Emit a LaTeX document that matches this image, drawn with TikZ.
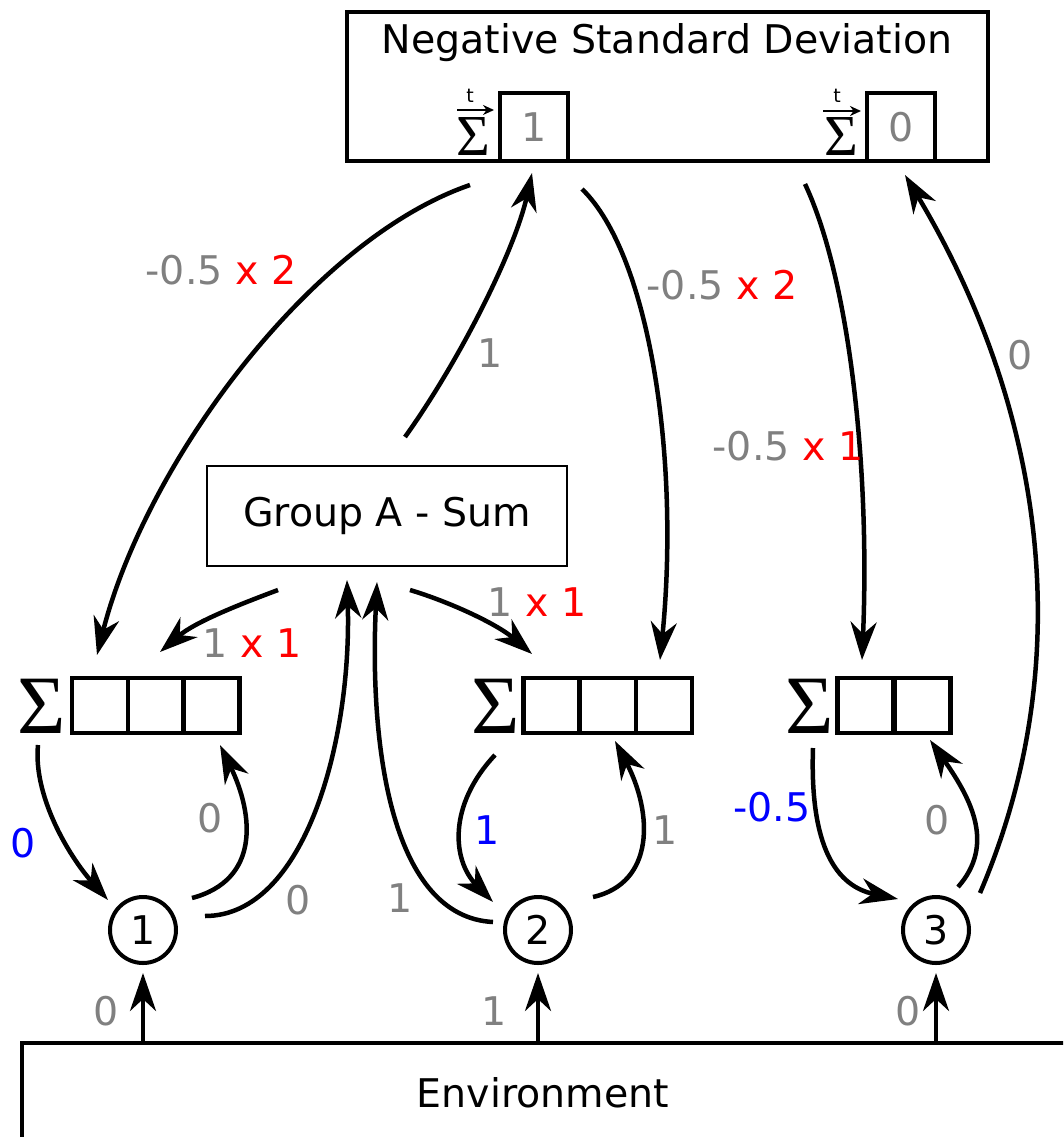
\documentclass[tikz,border=0pt]{standalone}
\usepackage{fontspec}
\setmainfont{DejaVu Sans}
\newfontfamily\sigfont{Liberation Serif}
\usetikzlibrary{arrows.meta,calc}
\definecolor{lg}{RGB}{128,128,128}
\begin{document}
\begin{tikzpicture}[x=1pt,y=-1pt,
  every node/.style={font=\fontsize{39.5}{47}\selectfont, inner sep=0pt, outer sep=0pt},
  conn/.style={line width=4.5pt, -{Stealth[length=38pt,width=26pt,inset=12pt]}},
  cell/.style={draw, line width=4.5pt, minimum width=56pt, minimum height=55pt},
  ibox/.style={draw, line width=4.5pt, minimum width=68pt, minimum height=68pt, text=lg},
  circ/.style={draw, circle, line width=4pt, minimum size=66pt},
  bigsig/.style={font=\sigfont\fontsize{83}{90}\selectfont},
  smallsig/.style={font=\sigfont\fontsize{58}{64}\selectfont},
  tlab/.style={font=\fontsize{19}{22}\selectfont},
  tarrow/.style={line width=2pt, -{Stealth[length=11pt,width=10pt]}},
  glab/.style={text=lg},
  blab/.style={text=blue}
]
\clip (0,0) rectangle (1063,1137);
\fill[white] (0,0) rectangle (1063,1137);

% top box
\node[draw, line width=4.5pt, minimum width=641pt, minimum height=149pt] (nsd) at (667.5,86.5) {};
\node (title) at (667,43) {Negative Standard Deviation};
\node[ibox] (b1) at (534,127) {1};
\node[ibox] (b2) at (901,127) {0};
\node[smallsig] (st1) at (473,137) {Σ};
\node[smallsig] (st2) at (841,137) {Σ};
\draw[tarrow] ([shift={(-16,-27)}]st1.center) -- ([shift={(21,-27)}]st1.center);
\draw[tarrow] ([shift={(-18,-26)}]st2.center) -- ([shift={(20,-26)}]st2.center);
\node[tlab] (t1) at (470,96) {t};
\node[tlab] (t2) at (837,96) {t};

% group A
\node[draw, line width=2.8pt, minimum width=360pt, minimum height=100pt] (ga) at (387,516) {Group A - Sum};

% registers
\node[bigsig] (s1) at (42,706) {Σ};
\node[cell] (r1a) at (100,705.5) {};
\node[cell] (r1b) at (156,705.5) {};
\node[cell] (r1c) at (211.5,705.5) {};
\node[bigsig] (s2) at (496,706) {Σ};
\node[cell] (r2a) at (551.5,705.5) {};
\node[cell] (r2b) at (608,705.5) {};
\node[cell] (r2c) at (664,705.5) {};
\node[bigsig] (s3) at (810,706) {Σ};
\node[cell] (r3a) at (865.5,705.5) {};
\node[cell] (r3b) at (922.5,705.5) {};

% circles
\node[circ] (c1) at (143,930) {1};
\node[circ] (c2) at (538,930) {2};
\node[circ] (c3) at (936,930) {3};

% environment
\node[draw, line width=4.5pt, anchor=north west, minimum width=1200pt, minimum height=300pt] (env) at (22,1043) {};
\node (envt) at (543,1093) {Environment};

\draw[conn, shorten >=10pt] (env.north -| c1) -- (c1.south);
\draw[conn, shorten >=10pt] (env.north -| c2) -- (c2.south);
\draw[conn, shorten >=10pt] (env.north -| c3) -- (c3.south);
\node[glab] (le1) at (106,1011) {0};
\node[glab] (le2) at (494,1011) {1};
\node[glab] (le3) at (908,1011) {0};

% connectors
\draw[conn] ([shift={(-64,58)}]b1.center) .. controls +(-160,55) and +(48,-190) .. ([shift={(-3,-50.5)}]r1a.center);
\draw[conn] ([shift={(18,-79)}]ga.center) .. controls +(55,-77) and +(-17,77) .. ([shift={(-2,46)}]b1.center);
\draw[conn] ([shift={(48,62)}]b1.center) .. controls +(68,66) and +(20,-200) .. ([shift={(-4,-45.5)}]r2c.center);
\draw[conn] ([shift={(-96,57)}]b2.center) .. controls +(45,96) and +(8,-190) .. ([shift={(-3.5,-45.5)}]r3a.center);
\draw[conn] ([shift={(44,-37)}]c3.center) .. controls +(112,-262) and +(120,200) .. ([shift={(4,48)}]b2.center);
\draw[conn] ([shift={(-109,74)}]ga.center) .. controls +(-40,15) and +(35,-30) .. ([shift={(4,-53.5)}]r1b.center);
\draw[conn] ([shift={(23,74)}]ga.center) .. controls +(40,12) and +(-35,-30) .. ([shift={(-19.5,-51.5)}]r2a.center);
\draw[conn] ([shift={(62,-14)}]c1.center) .. controls +(100,0) and +(5,160) .. ([shift={(-40,64)}]ga.center);
\draw[conn] ([shift={(-45,-8)}]c2.center) .. controls +(-100,-5) and +(-8,170) .. ([shift={(-10,66)}]ga.center);
\draw[conn] ([shift={(-4,39)}]s1.center) .. controls +(-5,50) and +(-40,-45) .. ([shift={(-35,-30)}]c1.center);
\draw[conn] ([shift={(49,-32)}]c1.center) .. controls +(68,-18) and +(34,70) .. ([shift={(8.5,39.5)}]r1c.center);
\draw[conn] ([shift={(-1,49)}]s2.center) .. controls +(-47,50) and +(-41,-42) .. ([shift={(-45,-28)}]c2.center);
\draw[conn] ([shift={(55,-33)}]c2.center) .. controls +(62,-14) and +(38,72) .. ([shift={(7,35.5)}]r2b.center);
\draw[conn] ([shift={(3,42)}]s3.center) .. controls +(-3,87) and +(-68,-14) .. ([shift={(-38,-31)}]c3.center);
\draw[conn] ([shift={(22,-43)}]c3.center) .. controls +(37,-42) and +(42,60) .. ([shift={(7.5,34.5)}]r3b.center);

% labels
\node (l1) at (221,270) {\textcolor{lg}{-0.5} \textcolor{red}{x 2}};
\node[glab] (l2) at (490,353) {1};
\node (l3) at (722,285) {\textcolor{lg}{-0.5} \textcolor{red}{x 2}};
\node (l4) at (788,446) {\textcolor{lg}{-0.5} \textcolor{red}{x 1}};
\node[glab] (l5) at (1020,355) {0};
\node (l6) at (252,643) {\textcolor{lg}{1} \textcolor{red}{x 1}};
\node (l7) at (537,602) {\textcolor{lg}{1} \textcolor{red}{x 1}};
\node[blab] (l8) at (23,843) {0};
\node[glab] (l9) at (210,818) {0};
\node[glab] (l10) at (298,900) {0};
\node[glab] (l11) at (400,898) {1};
\node[blab] (l12) at (487,830) {1};
\node[glab] (l13) at (665,830) {1};
\node[blab] (l14) at (772,807) {-0.5};
\node[glab] (l15) at (937,820) {0};
\end{tikzpicture}
\end{document}
